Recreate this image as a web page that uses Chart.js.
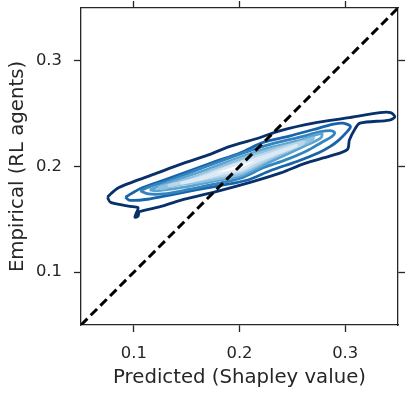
<!DOCTYPE html>
<html>
<head>
<meta charset="utf-8">
<script src="https://cdn.jsdelivr.net/npm/chart.js@4"></script>
<style>
  html, body { margin: 0; padding: 0; background: #fff; }
  #wrap { width: 407px; height: 396px; }
</style>
</head>
<body>
<div id="wrap"><canvas id="chart"></canvas></div>
<script>
// axis range and ticks (both axes)
const axisMin = 0.05;
const axisMax = 0.35;
const tickValues = [0.1, 0.2, 0.3];

// diagonal y = x
const diagonal = [[0.05, 0.05], [0.35, 0.35]];

// KDE contour lines, outermost first, [predicted, empirical]
const level1 = [[0.075,0.171],[0.084,0.179],[0.098,0.185],[0.120,0.193],[0.144,0.202],[0.168,0.210],[0.191,0.219],[0.215,0.226],[0.239,0.234],[0.270,0.241],[0.302,0.246],[0.333,0.251],[0.343,0.251],[0.347,0.247],[0.342,0.244],[0.314,0.241],[0.309,0.235],[0.304,0.225],[0.302,0.216],[0.286,0.210],[0.262,0.203],[0.239,0.194],[0.210,0.185],[0.177,0.176],[0.144,0.168],[0.125,0.162],[0.108,0.158],[0.105,0.157],[0.104,0.153],[0.101,0.152],[0.102,0.155],[0.104,0.161],[0.099,0.162],[0.078,0.166],[0.075,0.171]];
const level2 = [[0.092,0.171],[0.106,0.179],[0.128,0.187],[0.153,0.196],[0.175,0.204],[0.201,0.213],[0.223,0.223],[0.248,0.229],[0.270,0.235],[0.289,0.240],[0.298,0.241],[0.305,0.238],[0.301,0.232],[0.294,0.225],[0.286,0.219],[0.275,0.213],[0.255,0.205],[0.229,0.196],[0.207,0.187],[0.182,0.182],[0.160,0.178],[0.134,0.173],[0.113,0.169],[0.096,0.168],[0.092,0.171]];
const level3 = [[0.106,0.177],[0.115,0.181],[0.134,0.187],[0.163,0.198],[0.201,0.212],[0.229,0.221],[0.258,0.228],[0.277,0.233],[0.286,0.234],[0.290,0.232],[0.287,0.228],[0.278,0.223],[0.264,0.215],[0.243,0.206],[0.223,0.199],[0.201,0.189],[0.175,0.183],[0.151,0.178],[0.128,0.174],[0.114,0.174],[0.106,0.177]];
const level4 = [[0.115,0.178],[0.134,0.185],[0.163,0.195],[0.201,0.209],[0.229,0.218],[0.258,0.225],[0.272,0.230],[0.278,0.231],[0.277,0.227],[0.265,0.221],[0.248,0.213],[0.224,0.202],[0.201,0.191],[0.175,0.186],[0.151,0.181],[0.130,0.178],[0.120,0.177],[0.115,0.178]];
const level5 = [[0.123,0.180],[0.144,0.186],[0.168,0.194],[0.201,0.207],[0.229,0.216],[0.253,0.222],[0.270,0.227],[0.267,0.224],[0.253,0.218],[0.231,0.208],[0.201,0.193],[0.177,0.188],[0.160,0.185],[0.139,0.182],[0.127,0.179],[0.123,0.180]];
const level6 = [[0.132,0.182],[0.153,0.187],[0.177,0.196],[0.201,0.204],[0.224,0.212],[0.248,0.220],[0.261,0.223],[0.257,0.220],[0.239,0.213],[0.222,0.205],[0.201,0.195],[0.180,0.191],[0.161,0.187],[0.144,0.184],[0.134,0.182],[0.132,0.182]];
const level7 = [[0.144,0.184],[0.168,0.191],[0.191,0.200],[0.215,0.207],[0.239,0.215],[0.254,0.220],[0.248,0.217],[0.229,0.210],[0.215,0.204],[0.201,0.197],[0.182,0.193],[0.163,0.188],[0.149,0.185],[0.144,0.184]];

const contourLevels = [level1, level2, level3, level4, level5, level6, level7];
const contourColors = ["#08306b", "#1764ab", "#3383be", "#5ba3d0", "#8dc1dd", "#bad6eb", "#dbe9f6"];

const textColor = "#262626";
const toPoints = arr => arr.map(p => ({x: p[0], y: p[1]}));

const datasets = [{
	data: toPoints(diagonal),
	borderColor: "#000",
	borderWidth: 3,
	borderDash: [9, 4.7],
	order: 0
}];
contourLevels.forEach((lvl, i) => {
	datasets.push({
		data: toPoints(lvl),
		borderColor: contourColors[i],
		borderWidth: 2.8,
		tension: 0.3,
		order: 10 - i
	});
});

const fixTicks = scale => { scale.ticks = tickValues.map(v => ({value: v})); };
const axisBase = (position, size) => ({
	type: "linear",
	position: position,
	min: axisMin,
	max: axisMax,
	afterBuildTicks: fixTicks,
	border: {display: true, color: textColor, width: 1.3},
	grid: {drawOnChartArea: false, drawTicks: true, tickLength: 7, tickWidth: 1.3, tickColor: textColor},
	afterFit: scale => {
		if (scale.isHorizontal()) scale.height = size;
		else scale.width = size;
		scale.paddingTop = 0;
		scale.paddingBottom = 0;
		scale.paddingLeft = 0;
		scale.paddingRight = 0;
	}
});

const xAxis = axisBase("bottom", 71);
xAxis.ticks = {color: textColor, padding: 12, font: {family: "DejaVu Sans", size: 16.4}, callback: v => v.toFixed(1)};
xAxis.title = {display: true, text: "Predicted (Shapley value)", color: textColor, font: {family: "DejaVu Sans", size: 19.7}, padding: {top: 0, bottom: 6}};

const yAxis = axisBase("left", 81);
yAxis.ticks = {color: textColor, padding: 12, font: {family: "DejaVu Sans", size: 16.4}, callback: v => v.toFixed(1)};
yAxis.title = {display: true, text: "Empirical (RL agents)", color: textColor, font: {family: "DejaVu Sans", size: 19.7}, padding: {top: 6, bottom: 0}};

const xTop = axisBase("top", 8);
xTop.ticks = {display: false};
const yRight = axisBase("right", 9);
yRight.ticks = {display: false};

new Chart(document.getElementById("chart"), {
	type: "scatter",
	data: {datasets: datasets},
	options: {
		responsive: true,
		maintainAspectRatio: false,
		animation: false,
		showLine: true,
		elements: {point: {radius: 0}, line: {fill: false}},
		layout: {padding: 0},
		plugins: {legend: {display: false}, tooltip: {enabled: false}},
		scales: {x: xAxis, y: yAxis, x2: xTop, y2: yRight}
	}
});
</script>
</body>
</html>
